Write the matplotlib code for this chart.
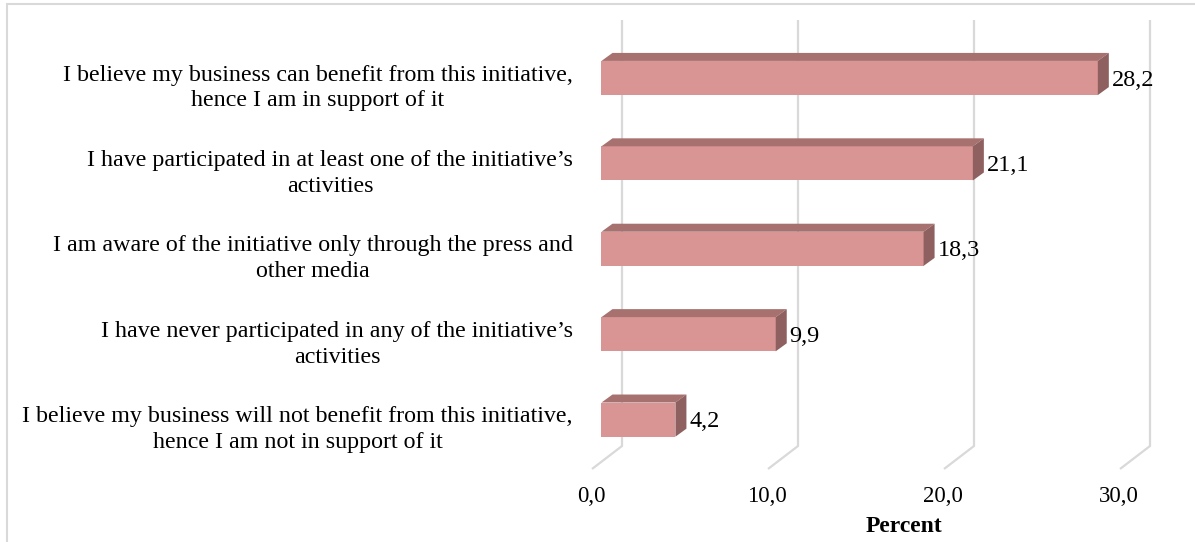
import matplotlib
matplotlib.use("Agg")
import matplotlib.pyplot as plt
from matplotlib.patches import Polygon, Rectangle

# survey answers, top to bottom
categories = [
    "I believe my business can benefit from this initiative,\nhence I am in support of it",
    "I have participated in at least one of the initiative\u2019s\nactivities",
    "I am aware of the initiative only through the press and\nother media",
    "I have never participated in any of the initiative\u2019s\nactivities",
    "I believe my business will not benefit from this initiative,\nhence I am not in support of it",
]
percent = [28.2, 21.1, 18.3, 9.9, 4.2]
ticks = [0, 10, 20, 30]
tick_labels = ["0,0", "10,0", "20,0", "30,0"]

FRONT = "#d99594"
TOP = "#a6716f"
SIDE = "#8e605f"
GRID = "#d9d9d9"

plt.rcParams['font.family'] = ['Liberation Serif', 'DejaVu Serif']

W, H = 1195, 542
fig = plt.figure(figsize=(W / 100, H / 100), dpi=100)
ax = fig.add_axes([0, 0, 1, 1])

# pixel scale of the plot: 17.6 px per percent, 85.4 px per category
sx, sy = 17.6, 85.4
x0, y0 = 601.5, 78.0
ax.set_xlim(-x0 / sx, (W - x0) / sx)
ax.set_ylim((H - y0) / sy, -y0 / sy)
ax.axis('off')

def px(dx):
    return dx / sx

def py(dy):
    return dy / sy

# walls: back gridlines plus the floor edge running toward the viewer
wall_dx = px(20.5)
top_y = py(20 - y0)
floor_back = py(446 - y0)
floor_front = py(469 - y0)
floor_dx = px(-30)
for t in ticks:
    xb = t + wall_dx
    ax.plot([xb, xb, xb + floor_dx], [top_y, floor_back, floor_front],
            color=GRID, lw=1.6, solid_capstyle='butt', zorder=1)

# 3d bars: front face with top and side faces
bar_h = 0.4
ddx, ddy = px(11), py(-8)
ypos = list(range(len(percent)))
ax.barh(ypos, percent, height=bar_h, color=FRONT, zorder=3)
for y, v in zip(ypos, percent):
    yt, yb = y - bar_h / 2, y + bar_h / 2
    ax.add_patch(Polygon([(0, yt), (v, yt), (v + ddx, yt + ddy), (ddx, yt + ddy)],
                         closed=True, facecolor=TOP, edgecolor='none', zorder=3))
    ax.add_patch(Polygon([(v, yt), (v + ddx, yt + ddy), (v + ddx, yb + ddy), (v, yb)],
                         closed=True, facecolor=SIDE, edgecolor='none', zorder=3))
    ax.text(v + ddx + px(3), y + py(2), f"{v:.1f}".replace(".", ","),
            ha='left', va='center', fontsize=17.5, zorder=4)

# category labels
for y, lab in zip(ypos, categories):
    ax.text(px(573 - x0), y + py(10), lab, ha='right', va='center',
            multialignment='center', fontsize=17.3, linespacing=1.3)

# axis tick labels along the front floor edge
for t, lab in zip(ticks, tick_labels):
    ax.text(t + px(-10.5), py(497 - y0), lab, ha='center', va='center', fontsize=16.5)

ax.text(px(903.5 - x0), py(526 - y0), "Percent", ha='center', va='center',
        fontsize=17, fontweight='bold')

# chart area frame
fig.patches.append(Rectangle((7 / W, -0.05), 1.2, 1 - 4 / H + 0.05,
                             transform=fig.transFigure, fill=False,
                             edgecolor=GRID, lw=1.5))

fig.savefig("out.png", dpi=100)
